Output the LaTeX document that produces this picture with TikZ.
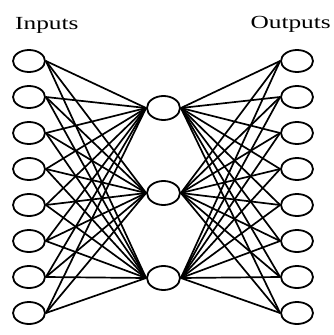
\documentclass[tikz,border=0pt]{standalone}
\usepackage{fontspec}
\setmainfont{Liberation Serif}
\usepackage{graphicx}
\usetikzlibrary{shapes.geometric}
\tikzset{
    unit/.style={draw, ellipse, line width=1.8pt, minimum width=32pt, minimum height=22pt, inner sep=0pt},
    hidunit/.style={unit, minimum width=33pt, minimum height=24pt},
    link/.style={line width=1.7pt},
    title/.style={font=\fontsize{18.5}{20}\selectfont, inner sep=0pt}
}
\begin{document}
\begin{tikzpicture}[x=1pt, y=-1pt]
    \useasboundingbox (0,0) rectangle (334,335);
    % titles
    \node[title, anchor=base west] (intitle) at (15,29) {\scalebox{1.37}[1]{Inputs}};
    \node[title, anchor=base east] (outtitle) at (331,28) {\scalebox{1.37}[1]{Outputs}};
    % input and output layers
    \foreach \i in {1,...,8} {
        \node[unit] (in\i) at (29, 25+36*\i) {};
        \node[unit] (out\i) at (297, 25+36*\i) {};
    }
    % hidden layer
    \foreach \j/\y in {1/108, 2/193, 3/278}
        \node[hidunit] (hid\j) at (163.5,\y) {};
    % connections
    \foreach \i in {1,...,8}
        \foreach \j in {1,2,3} {
            \draw[link] (in\i.east) -- (hid\j.west);
            \draw[link] (hid\j.east) -- (out\i.west);
        }
\end{tikzpicture}
\end{document}
